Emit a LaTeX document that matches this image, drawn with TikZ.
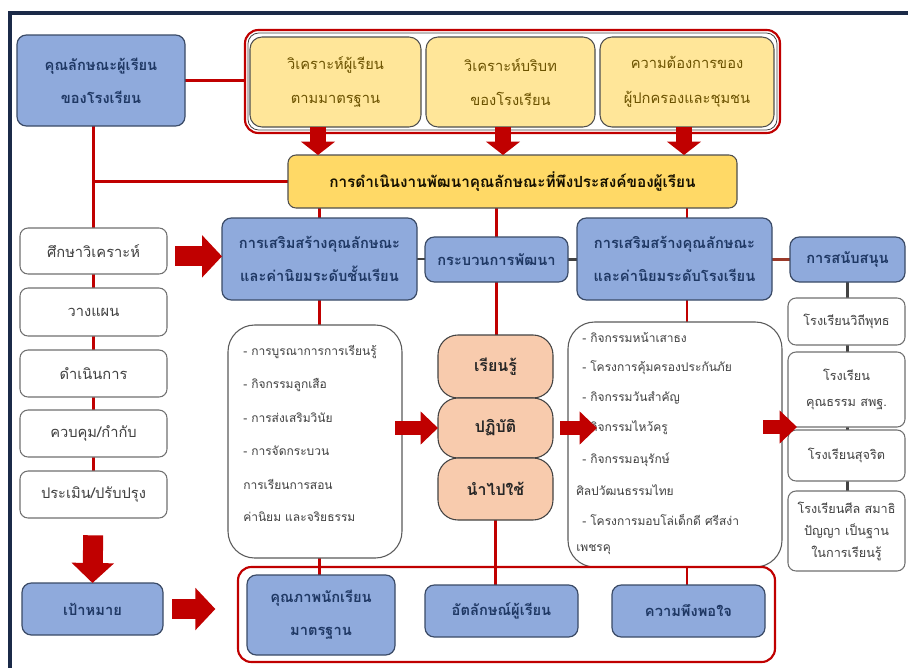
\documentclass[tikz,border=0pt]{standalone}
\usepackage{fontspec}
\newfontfamily\thai[Script=Thai]{Loma}
\usetikzlibrary{arrows.meta}
\pgfdeclarelayer{bg}
\pgfsetlayers{bg,main}
\definecolor{rd}{HTML}{C00000}
\definecolor{navy}{HTML}{1B2A48}
\definecolor{bfill}{HTML}{8FAADC}
\definecolor{bdraw}{HTML}{3A4A66}
\definecolor{btext}{HTML}{1F3864}
\definecolor{yfill}{HTML}{FFE699}
\definecolor{ybarf}{HTML}{FFD966}
\definecolor{ytext}{HTML}{6B5200}
\definecolor{pfill}{HTML}{F8CBAD}
\definecolor{gdraw}{HTML}{707070}
\definecolor{gtext}{HTML}{404040}
\definecolor{brn}{HTML}{9B3A2A}
\newcommand\bx[7]{%
  \pgfmathsetmacro\bw{(#5-#3)*0.75}\pgfmathsetmacro\bh{(#6-#4)*0.75}%
  \node[#2, minimum width=\bw pt, minimum height=\bh pt] (#1) at ({(#3+#5)/2},{(#4+#6)/2}) {#7};}
\tikzset{
  base/.style={align=center, inner sep=0pt, outer sep=0pt},
  blueb/.style={base, draw=bdraw, line width=0.9pt, fill=bfill, rounded corners=7pt,
    text=btext, font=\thai\bfseries\fontsize{11}{25}\selectfont},
  ybox/.style={base, draw=gdraw!70!black, line width=0.8pt, fill=yfill, rounded corners=9pt,
    text=ytext, font=\thai\fontsize{11}{26}\selectfont},
  ybar/.style={base, draw=gdraw!70!black, line width=0.8pt, fill=ybarf, rounded corners=6pt,
    text=black!80!ytext, font=\thai\bfseries\fontsize{11.5}{14}\selectfont},
  wbox/.style={base, draw=gdraw, line width=0.8pt, fill=white, rounded corners=6pt,
    text=gtext, font=\thai\fontsize{11}{14}\selectfont},
  sbox/.style={wbox, font=\thai\fontsize{9.5}{16.5}\selectfont},
  listbox/.style={base, draw=gdraw!80!black, line width=0.8pt, fill=white, rounded corners=20pt},
  pbox/.style={base, draw=gdraw!60!black, line width=0.8pt, fill=pfill, rounded corners=15pt,
    text=black!85, font=\thai\bfseries\fontsize{12}{14}\selectfont},
  frame/.style={base, draw=rd, line width=1.6pt, rounded corners=10pt},
  ltxt/.style={anchor=west, inner sep=0pt, text=gtext, font=\thai\fontsize{9}{12}\selectfont},
  rline/.style={draw=rd, line width=1.8pt},
  dline/.style={draw=gdraw!60!black, line width=1.6pt},
  bline/.style={draw=brn, line width=1.8pt},
  arrS/.style={draw=rd, line width=12pt, -{Triangle[width=25pt,length=10pt]}},
  arrM/.style={draw=rd, line width=11pt, -{Triangle[width=24pt,length=13pt]}},
  arrL/.style={draw=rd, line width=15pt, -{Triangle[width=31pt,length=15pt]}},
}
\begin{document}
\begin{tikzpicture}[x=0.75pt, y=-0.75pt]
\useasboundingbox (0,0) rectangle (908,668);
\begin{pgfonlayer}{bg}
\fill[white] (0,0) rectangle (908,668);
\end{pgfonlayer}
\draw[navy, line width=2.6pt] (10,670) -- (10,13) -- (910,13);

% top row
\bx{kq}{blueb}{17}{35}{185}{126}{คุณลักษณะผู้เรียน\\ของโรงเรียน}
\bx{topc}{frame}{245}{30}{780}{133}{}
\draw[gdraw!60!black, line width=0.6pt, rounded corners=8pt] ([shift={(3,3)}]topc.north west) rectangle ([shift={(-3,-3)}]topc.south east);
\bx{ya}{ybox}{250}{37}{421}{127}{วิเคราะห์ผู้เรียน\\ตามมาตรฐาน}
\bx{yb}{ybox}{426}{37}{595}{127}{วิเคราะห์บริบท\\ของโรงเรียน}
\bx{yc}{ybox}{600}{37}{774}{127}{ความต้องการของ\\ผู้ปกครองและชุมชน}
\bx{bar}{ybar}{288}{155}{737}{208}{การดำเนินงานพัฒนาคุณลักษณะที่พึงประสงค์ของผู้เรียน}

% left column
\bx{e1}{wbox}{20}{228}{167}{274}{ศึกษาวิเคราะห์}
\bx{e2}{wbox}{20}{288}{167}{336}{วางแผน}
\bx{e3}{wbox}{20}{350}{167}{397}{ดำเนินการ}
\bx{e4}{wbox}{20}{410}{167}{457}{ควบคุม/กำกับ}
\bx{e5}{wbox}{20}{471}{167}{518}{ประเมิน/ปรับปรุง}
\bx{goal}{blueb}{22}{583}{163}{635}{เป้าหมาย}

% second row
\bx{cls}{blueb}{222}{218}{417}{300}{การเสริมสร้างคุณลักษณะ\\และค่านิยมระดับชั้นเรียน}
\bx{proc}{blueb}{425}{237}{568}{282}{กระบวนการพัฒนา}
\bx{sch}{blueb}{577}{218}{772}{300}{การเสริมสร้างคุณลักษณะ\\และค่านิยมระดับโรงเรียน}
\bx{sup}{blueb}{790}{237}{905}{282}{การสนับสนุน}
\coordinate (vx) at (687,0);

% lists
\bx{ll}{listbox}{228}{325}{402}{558}{}
\node[ltxt] (l1) at (243,352) {- การบูรณาการการเรียนรู้};
\node[ltxt] (l2) at (243,385) {- กิจกรรมลูกเสือ};
\node[ltxt] (l3) at (243,418) {- การส่งเสริมวินัย};
\node[ltxt] (l4) at (243,451) {- การจัดกระบวน};
\node[ltxt] (l5) at (243,484) {การเรียนการสอน};
\node[ltxt] (l6) at (243,517) {ค่านิยม และจริยธรรม};

\bx{s1}{pbox}{438}{335}{553}{398}{เรียนรู้}
\bx{s2}{pbox}{438}{398}{553}{458}{ปฏิบัติ}
\bx{s3}{pbox}{438}{458}{553}{520}{นำไปใช้}

\bx{rl}{listbox}{568}{322}{782}{567}{}
\node[ltxt] (r1) at (582,338) {- กิจกรรมหน้าเสาธง};
\node[ltxt] (r2) at (582,368) {- โครงการคุ้มครองประกันภัย};
\node[ltxt] (r3) at (582,398) {- กิจกรรมวันสำคัญ};
\node[ltxt] (r4) at (582,428) {- กิจกรรมไหว้ครู};
\node[ltxt] (r5) at (582,460) {- กิจกรรมอนุรักษ์};
\node[ltxt] (r6) at (576,490) {ศิลปวัฒนธรรมไทย};
\node[ltxt] (r7) at (582,520) {- โครงการมอบโล่เด็กดี ศรีสง่า};
\node[ltxt] (r8) at (576,550) {เพชรคุ};

\bx{sp1}{sbox}{788}{298}{905}{345}{โรงเรียนวิถีพุทธ}
\bx{sp2}{sbox}{788}{352}{905}{427}{โรงเรียน\\[3pt]คุณธรรม สพฐ.}
\bx{sp3}{sbox}{788}{430}{905}{481}{โรงเรียนสุจริต}
\bx{sp4}{sbox}{788}{491}{905}{571}{โรงเรียนศีล สมาธิ\\ปัญญา เป็นฐาน\\ในการเรียนรู้}

% bottom
\bx{bc}{frame}{238}{567}{775}{662}{}
\bx{q1}{blueb}{247}{575}{395}{655}{คุณภาพนักเรียน\\มาตรฐาน}
\bx{q2}{blueb}{425}{585}{578}{637}{อัตลักษณ์ผู้เรียน}
\bx{q3}{blueb}{612}{585}{765}{637}{ความพึงพอใจ}

% connectors
\begin{pgfonlayer}{bg}
\draw[rline] (kq.east) -- (kq.east -| topc.west);
\draw[rline] (kq.south -| e1.north) -- (e1.north);
\draw[rline] (e1.north |- bar.west) -- (bar.west);
\draw[rline] (e1.south) -- (e2.north);
\draw[rline] (e2.south) -- (e3.north);
\draw[rline] (e3.south) -- (e4.north);
\draw[rline] (e4.south) -- (e5.north);
\draw[rline] (bar.south -| cls.north) -- (cls.north);
\draw[rline] (bar.south -| proc.north) -- (proc.north);
\draw[rline] (bar.south -| vx) -- (sch.north -| vx);
\draw[dline] (cls.east) -- (cls.east -| proc.west);
\draw[dline] (proc.east) -- (proc.east -| sch.west);
\draw[bline] (sch.east |- sup.west) -- (sup.west);
\draw[rline] (cls.south) -- (cls.south |- ll.north);
\draw[rline] (proc.south) -- (proc.south |- s1.north);
\draw[rline] (sch.south -| vx) -- (rl.north -| vx);
\draw[rline] (ll.south -| cls.south) -- (q1.north -| cls.south);
\draw[rline] (s3.south) -- (s3.south |- q2.north);
\draw[rline] (rl.south -| vx) -- (q3.north -| vx);
\draw[dline] (sup.south) -- (sup.south |- sp1.north);
\draw[dline] (sp1.south -| sup.south) -- (sp2.north -| sup.south);
\draw[dline] (sp2.south -| sup.south) -- (sp3.north -| sup.south);
\draw[dline] (sp3.south -| sup.south) -- (sp4.north -| sup.south);
\end{pgfonlayer}

% block arrows
\coordinate (ax1) at (318,0);
\coordinate (ax2) at (503,0);
\coordinate (ax3) at (684,0);
\draw[arrS] (ya.south -| ax1) -- (bar.north -| ax1);
\draw[arrS] (yb.south -| ax2) -- (bar.north -| ax2);
\draw[arrS] (yc.south -| ax3) -- (bar.north -| ax3);
\draw[arrL, shorten <=6pt] ([yshift=-4]e1.east) -- ([yshift=-4]e1.east -| cls.west);
\coordinate (la) at ([shift={(-7,0)}]ll.east |- s2.west);
\draw[arrM] (la) -- (s2.west);
\coordinate (ma) at ([shift={(7,0)}]s2.east);
\coordinate (mb) at ([shift={(29,0)}]s2.east -| rl.west);
\draw[arrM] (ma) -- (mb);
\coordinate (ra) at ([shift={(-19,0)}]rl.east |- sp2.south);
\coordinate (rb) at ([shift={(9,0)}]sp2.south west);
\draw[arrM] (ra) -- (rb);
\draw[arrL, shorten <=13pt] (e5.south) -- (goal.north);
\draw[arrL, shorten <=7pt, shorten >=17pt] (goal.east) -- (goal.east -| bc.west);
\end{tikzpicture}
\end{document}
